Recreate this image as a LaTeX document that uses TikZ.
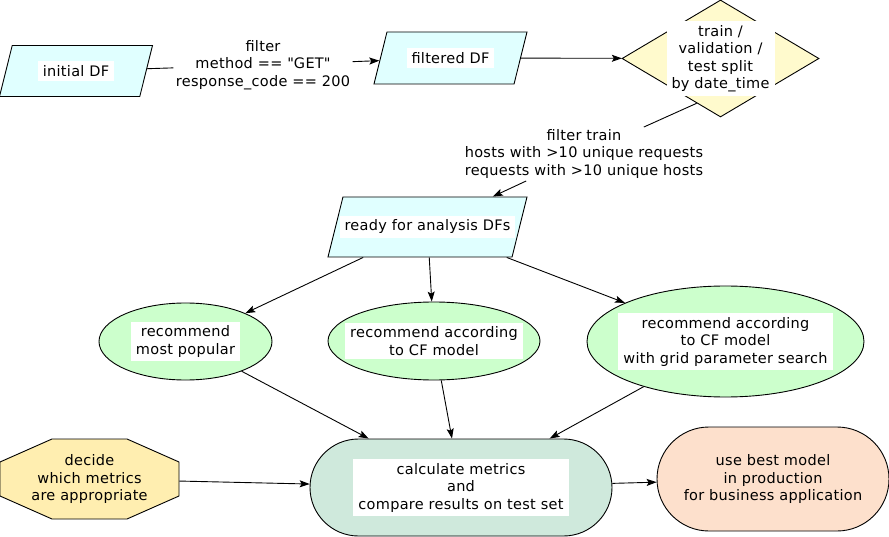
\documentclass[tikz,border=0pt]{standalone}
\usepackage{fontspec}
\setmainfont{DejaVu Sans}[LetterSpace=2.0]
\usepackage{xcolor}
\usetikzlibrary{arrows.meta, shapes.geometric, shapes.misc}

\definecolor{dfcyan}{HTML}{E0FFFF}
\definecolor{splityellow}{HTML}{FFFACD}
\definecolor{recgreen}{HTML}{CCFFCC}
\definecolor{calcgreen}{HTML}{CFE9DC}
\definecolor{decideyellow}{HTML}{FFEEB0}
\definecolor{usepeach}{HTML}{FDE0CC}

\tikzset{
    whitebg/.style={fill=white, align=center, inner xsep=5pt, inner ysep=4pt},
    plaintext/.style={align=center, inner sep=2pt},
    dfbox/.style={draw, trapezium, trapezium left angle=76, trapezium right angle=104,
        trapezium stretches body, fill=dfcyan, inner xsep=0pt},
    recell/.style={draw, ellipse, fill=recgreen, inner sep=0pt}
}

\begin{document}
\begin{tikzpicture}[x=1pt, y=-1pt, line width=0.9pt,
        >={Stealth[length=10pt, width=7pt, inset=2pt]},
        font=\fontsize{14.5}{17.5}\selectfont]
    \useasboundingbox (0, 0) rectangle (889, 537);

    \node[dfbox, inner ysep=25.5pt, minimum width=153pt,
        label={[whitebg]center:initial DF}] (init) at (76, 71) {};
    \node[plaintext] (fltA) at (263, 65) {filter\\method == \textquotedbl GET\textquotedbl\\response\_code == 200};
    \node[dfbox, inner ysep=26pt, minimum width=153pt,
        label={[whitebg]center:filtered DF}] (filt) at (450.5, 58) {};
    \node[draw, diamond, fill=splityellow, inner sep=0pt, minimum width=197pt, minimum height=117pt,
        label={[whitebg]center:{train /\\validation /\\test split\\by date\_time}}] (split) at (720.5, 58.5) {};
    \node[plaintext] (fltB) at (584, 154) {filter train\\hosts with >10 unique requests\\requests with >10 unique hosts};
    \node[dfbox, inner ysep=30pt, minimum width=199pt,
        label={[whitebg]center:ready for analysis DFs}] (ready) at (427.5, 227) {};

    \node[recell, minimum width=173pt, minimum height=77pt,
        label={[whitebg]center:{recommend\\most popular}}] (pop) at (185.5, 341.5) {};
    \node[recell, minimum width=212pt, minimum height=78pt,
        label={[whitebg]center:{recommend according\\to CF model}}] (cf) at (434, 341) {};
    \node[recell, minimum width=277pt, minimum height=111pt,
        label={[whitebg]center:{recommend according\\to CF model\\with grid parameter search}}] (grid) at (725.5, 341.5) {};

    \filldraw[fill=decideyellow]
    (52, 439) -- (127, 439) -- (179, 462) -- (179, 496) -- (127, 519) -- (52, 519) -- (0, 496) -- (0, 462) -- cycle;
    \node[plaintext, minimum width=179pt, minimum height=80pt, inner sep=0pt] (decide) at (89.5, 479)
        {decide\\which metrics\\are appropriate};
    \node[draw, rounded rectangle, fill=calcgreen, inner sep=0pt, minimum width=302pt, minimum height=97pt,
        label={[whitebg]center:{calculate metrics\\and\\compare results on test set}}] (calc) at (461, 487.5) {};
    \node[draw, rounded rectangle, fill=usepeach, inner sep=0pt, minimum width=232pt, minimum height=104pt,
        label={[plaintext]center:{use best model\\in production\\for business application}}] (use) at (773, 479) {};

    \draw
    (init) -- (fltA)
    (fltA) edge[->] (filt)
    (filt) edge[->] (split)
    (split.242) edge (fltB)
    (fltB) edge[->] (ready)
    (ready) edge[->] (pop)
    (ready) edge[->] (cf)
    (ready) edge[->] (grid)
    (pop) edge[->] (calc)
    (cf) edge[->] (calc)
    (grid) edge[->] (calc)
    (decide) edge[->] (calc)
    (calc) edge[->] (use);
\end{tikzpicture}
\end{document}
